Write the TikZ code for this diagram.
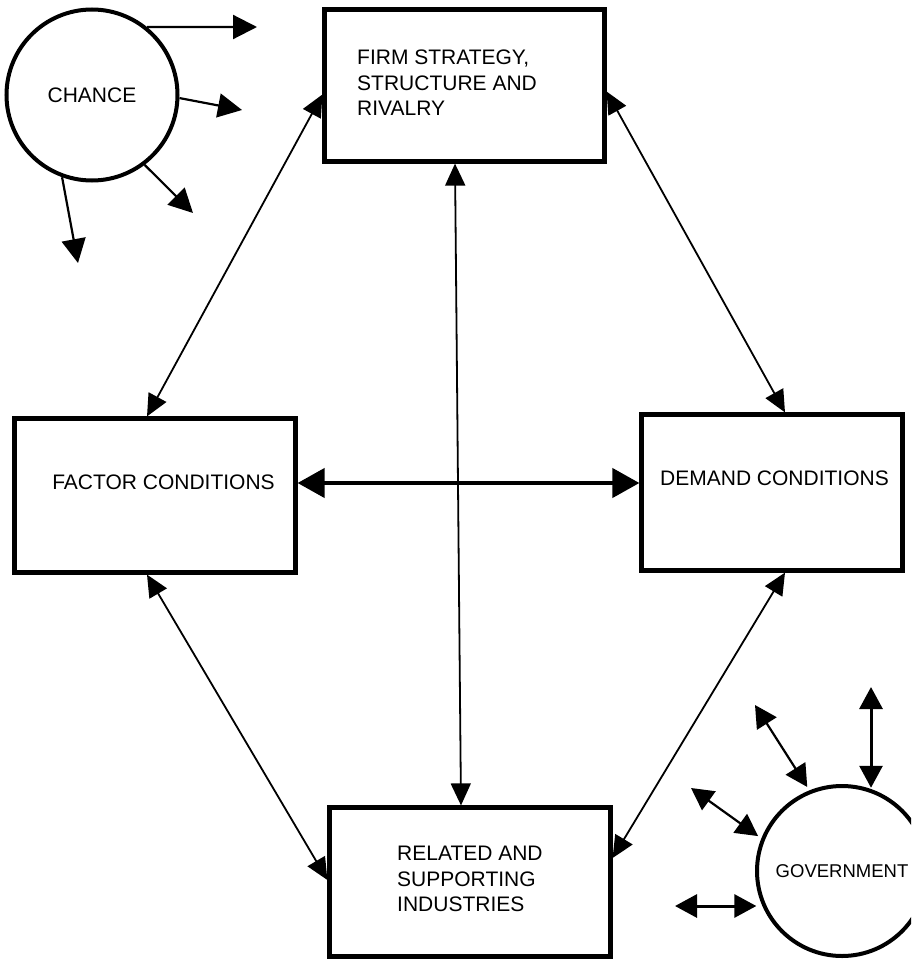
\documentclass[tikz,border=0pt]{standalone}
\usepackage{fontspec}
\setmainfont{Liberation Sans}
\usetikzlibrary{arrows.meta}
\begin{document}
\begin{tikzpicture}[x=1pt,y=-1pt,
  boxnode/.style={draw,line width=4.2pt,rectangle,inner sep=0pt},
  ringnode/.style={draw,line width=4pt,circle,inner sep=0pt},
  labeltext/.style={inner sep=0pt,align=left,font=\fontsize{21}{25.5}\selectfont},
  conn/.style={line width=1.8pt,{Triangle[length=22pt,width=20pt]}-{Triangle[length=22pt,width=20pt]}},
  bigconn/.style={line width=4.2pt,{Triangle[length=27pt,width=29pt]}-{Triangle[length=27pt,width=29pt]}},
  chancearrow/.style={line width=2.2pt,-{Triangle[length=24pt,width=24pt]}},
  govarrow/.style={{Triangle[length=22pt,width=23pt]}-{Triangle[length=22pt,width=23pt]}},
]
\useasboundingbox (0,0) rectangle (911,961);
\clip (0,0) rectangle (911,961);

% boxes
\node[boxnode,minimum width=280pt,minimum height=152pt] (firm) at (464.5,85.5) {};
\node[boxnode,minimum width=281pt,minimum height=154pt] (factor) at (155,495.5) {};
\node[boxnode,minimum width=261pt,minimum height=156pt] (demand) at (772,492.5) {};
\node[boxnode,minimum width=281pt,minimum height=149pt] (related) at (470,882) {};

% texts
\node[labeltext,anchor=west] (firmtext) at (357,83) {FIRM STRATEGY,\\STRUCTURE AND\\RIVALRY};
\node[labeltext] (factortext) at (163.5,482) {FACTOR CONDITIONS};
\node[labeltext] (demandtext) at (774.5,478) {DEMAND CONDITIONS};
\node[labeltext,anchor=west] (relatedtext) at (397,879) {RELATED AND\\SUPPORTING\\INDUSTRIES};

% circles
\node[ringnode,minimum size=171pt,font=\fontsize{21}{25}\selectfont] (chance) at (92,95) {CHANCE};
\node[ringnode,minimum size=170pt,font=\fontsize{18.5}{22}\selectfont] (gov) at (842,871) {GOVERNMENT};

% diamond connectors
\draw[conn] ([xshift=-8pt]factor.north) -- ([yshift=-9pt]firm.west);
\draw[conn] ([xshift=13pt]demand.north) -- ([yshift=-6pt]firm.east);
\draw[conn] ([xshift=-8pt]factor.south) -- ([yshift=2pt]related.west);
\draw[conn] ([xshift=13pt]demand.south) -- ([yshift=24pt]related.east);
\draw[conn] ([xshift=-9.5pt]firm.south) -- ([xshift=-9pt]related.north);
\draw[bigconn] ([yshift=12.5pt]factor.east) -- ([yshift=9.5pt]demand.west);

% chance arrows
\coordinate (c1) at (257,27);
\coordinate (c2) at (242,110);
\coordinate (c3) at (193,213);
\coordinate (c4) at (78,263);
\draw[chancearrow] (chance.51) -- (c1);
\draw[chancearrow] (chance.-2) -- (c2);
\draw[chancearrow] (chance.-53) -- (c3);
\draw[chancearrow] (chance.-110) -- (c4);

% government arrows
\coordinate (g1) at (871,687);
\coordinate (g2) at (755,705);
\coordinate (g3) at (691,788);
\coordinate (g4) at (675,906);
\draw[govarrow,line width=3pt,shorten >=1pt] (g1) -- (g1 |- gov.71);
\draw[govarrow,line width=2.2pt,shorten >=4pt] (g2) -- (gov.112);
\draw[govarrow,line width=2.2pt,shorten >=4pt] (g3) -- (gov.158);
\draw[govarrow,line width=3pt,shorten >=5pt] (g4) -- (g4 -| gov.202);
\end{tikzpicture}
\end{document}
